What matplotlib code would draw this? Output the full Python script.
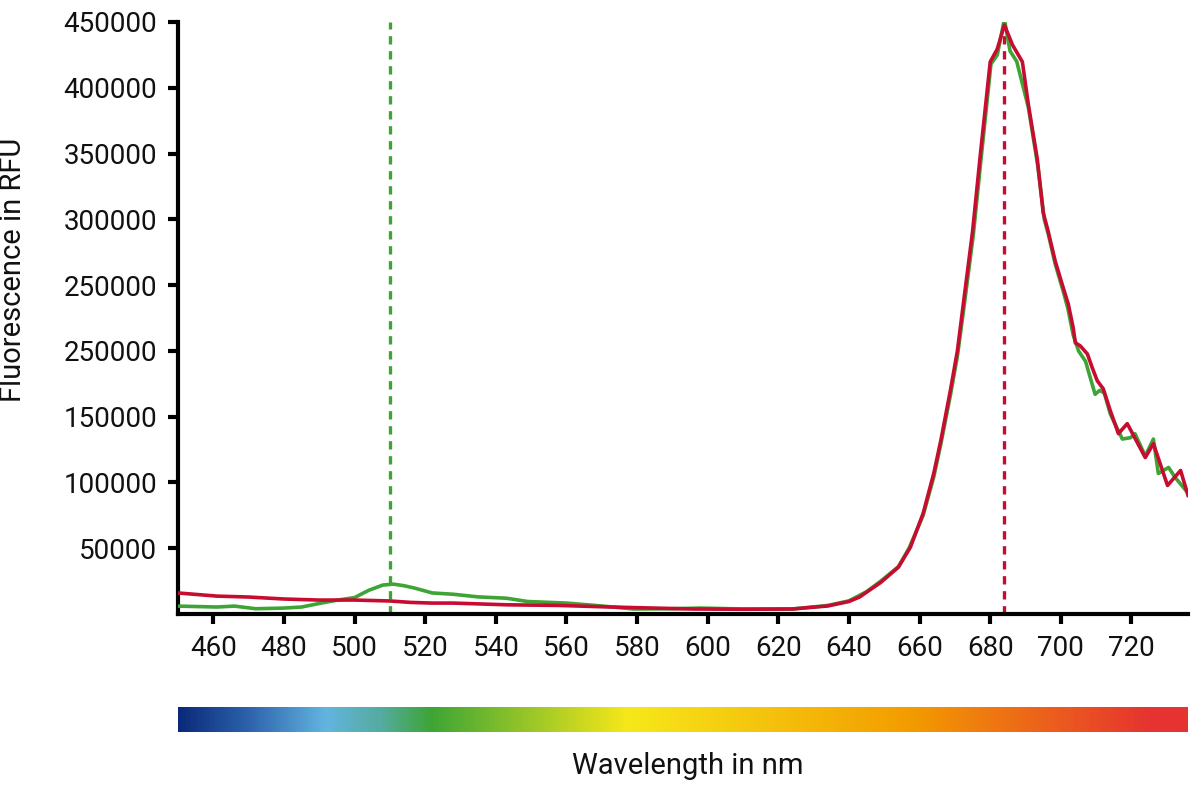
import numpy as np
import matplotlib
matplotlib.use("Agg")
import matplotlib.pyplot as plt
from matplotlib.colors import LinearSegmentedColormap

plt.rcParams['font.family'] = ['Roboto', 'DejaVu Sans']

# green spectrum (nm, RFU)
green_nm = [450, 461, 466, 472, 480, 485, 490, 495, 500, 504, 508, 511, 514, 517,
            522, 528, 535, 543, 549, 560, 570, 579, 590, 598, 610, 624, 634, 640,
            645, 649, 654, 657, 661, 664, 666, 668.7, 670.7, 672.5, 675.2, 677.4,
            680.2, 682, 684, 685.6, 687.5, 690.8, 693.5, 695.3, 696.5, 698.4, 700.7,
            702, 703.5, 705, 707, 708.5, 709.7, 711, 712.3, 714, 717.4, 719.7, 721,
            723.9, 726.2, 727.6, 730.5, 732.3, 734.7, 736]
green_val = [6000, 5300, 6000, 4000, 4500, 5300, 8000, 10500, 12500, 18000, 22000,
             22700, 21500, 19700, 16000, 15000, 13000, 12000, 9500, 8300, 6100, 3800,
             4000, 4500, 3800, 3800, 6500, 10000, 17000, 25000, 36000, 50000, 75000,
             104000, 129000, 166000, 196000, 232000, 288000, 346000, 418000, 425000,
             452000, 428000, 420000, 385000, 340000, 300000, 288000, 266000, 245000,
             232000, 212000, 200000, 192000, 178000, 167000, 170000, 168000, 152000,
             133000, 134000, 137000, 120000, 133000, 106800, 111400, 104000, 96200,
             92000]

# red spectrum (nm, RFU)
red_nm = [450, 461, 470, 480, 490, 500, 510, 516, 522, 528, 543, 558, 570, 580,
          596, 610, 624, 634, 640, 643, 649, 654, 657.4, 661, 664, 666, 668.7,
          670.7, 672.3, 675, 677.2, 680, 682, 684, 686.3, 689.1, 690.8, 693.3, 695,
          696.3, 698.4, 700.7, 702.1, 703.5, 704.1, 705.5, 707.5, 708.9, 710.3, 712,
          714, 716.3, 718.8, 723.9, 726.2, 730.2, 733.9, 736]
red_val = [16000, 13600, 12900, 11400, 10600, 10600, 9900, 8800, 8300, 8300, 7000,
           6500, 5500, 4800, 3800, 3600, 3800, 6100, 9500, 12900, 24000, 35600,
           50800, 76500, 106800, 131800, 169700, 200000, 234000, 290900, 349200,
           419700, 429500, 447700, 432600, 419700, 387100, 346200, 305000, 292000,
           268200, 247700, 235600, 217400, 206100, 203800, 197700, 187100, 177300,
           171200, 154500, 137100, 144700, 118900, 129500, 97700, 109100, 90200]

green_peak = 510
red_peak = 684

x_ticks = [460, 480, 500, 520, 540, 560, 580, 600, 620, 640, 660, 680, 700, 720]
y_ticks = [50000, 100000, 150000, 200000, 250000, 300000, 350000, 400000, 450000]
y_tick_labels = ['50000', '100000', '150000', '250000', '250000', '300000',
                 '350000', '400000', '450000']

GREEN = '#3da435'
RED = '#c60c30'

fig = plt.figure(figsize=(12, 7.85), dpi=100)
ax = fig.add_axes([178 / 1200, 1 - 614 / 785, 1010 / 1200, 592 / 785])

ax.plot(green_nm, green_val, color=GREEN, lw=2.6, solid_joinstyle='round', zorder=3)
ax.plot(red_nm, red_val, color=RED, lw=2.6, solid_joinstyle='round', zorder=4)
ax.axvline(green_peak, color=GREEN, lw=2.4, ls=(0, (2.5, 2)), zorder=2)
ax.axvline(red_peak, color=RED, lw=2.4, ls=(0, (2.5, 2)), zorder=2)

ax.set_xlim(450, 736)
ax.set_ylim(0, 450000)
for s in ['top', 'right']:
    ax.spines[s].set_visible(False)
for s in ['left', 'bottom']:
    ax.spines[s].set_linewidth(3)
ax.set_xticks(x_ticks)
ax.set_xticklabels([str(t) for t in x_ticks])
ax.set_yticks(y_ticks)
ax.set_yticklabels(y_tick_labels)
ax.tick_params(length=7, width=3, pad=8, labelsize=20, colors='black')
for lab in ax.get_xticklabels() + ax.get_yticklabels():
    lab.set_fontweight('normal')
    lab.set_color('#111111')

fig.text(13 / 1200, 1 - 270 / 785, 'Fluorescence in RFU', rotation=90,
         ha='center', va='center', fontsize=21, color='#111111')

# spectrum bar
spec_pos = [0.0, 0.07, 0.145, 0.2, 0.25, 0.446, 0.725, 0.965, 1.0]
spec_col = ['#0b2a7a', '#2e64ad', '#62b5e0', '#55ab9f', '#3ea535', '#f7e81a',
            '#f39c00', '#e63331', '#e63331']
cmap = LinearSegmentedColormap.from_list('spec', list(zip(spec_pos, spec_col)))
cax = fig.add_axes([178 / 1200, 1 - 732 / 785, 1010 / 1200, 25 / 785])
cax.imshow(np.linspace(0, 1, 512)[None, :], aspect='auto', cmap=cmap)
cax.set_axis_off()

fig.text(688 / 1200, 1 - 766 / 785, 'Wavelength in nm', ha='center', va='center',
         fontsize=21, color='#111111')

fig.savefig('out.png', dpi=100)
